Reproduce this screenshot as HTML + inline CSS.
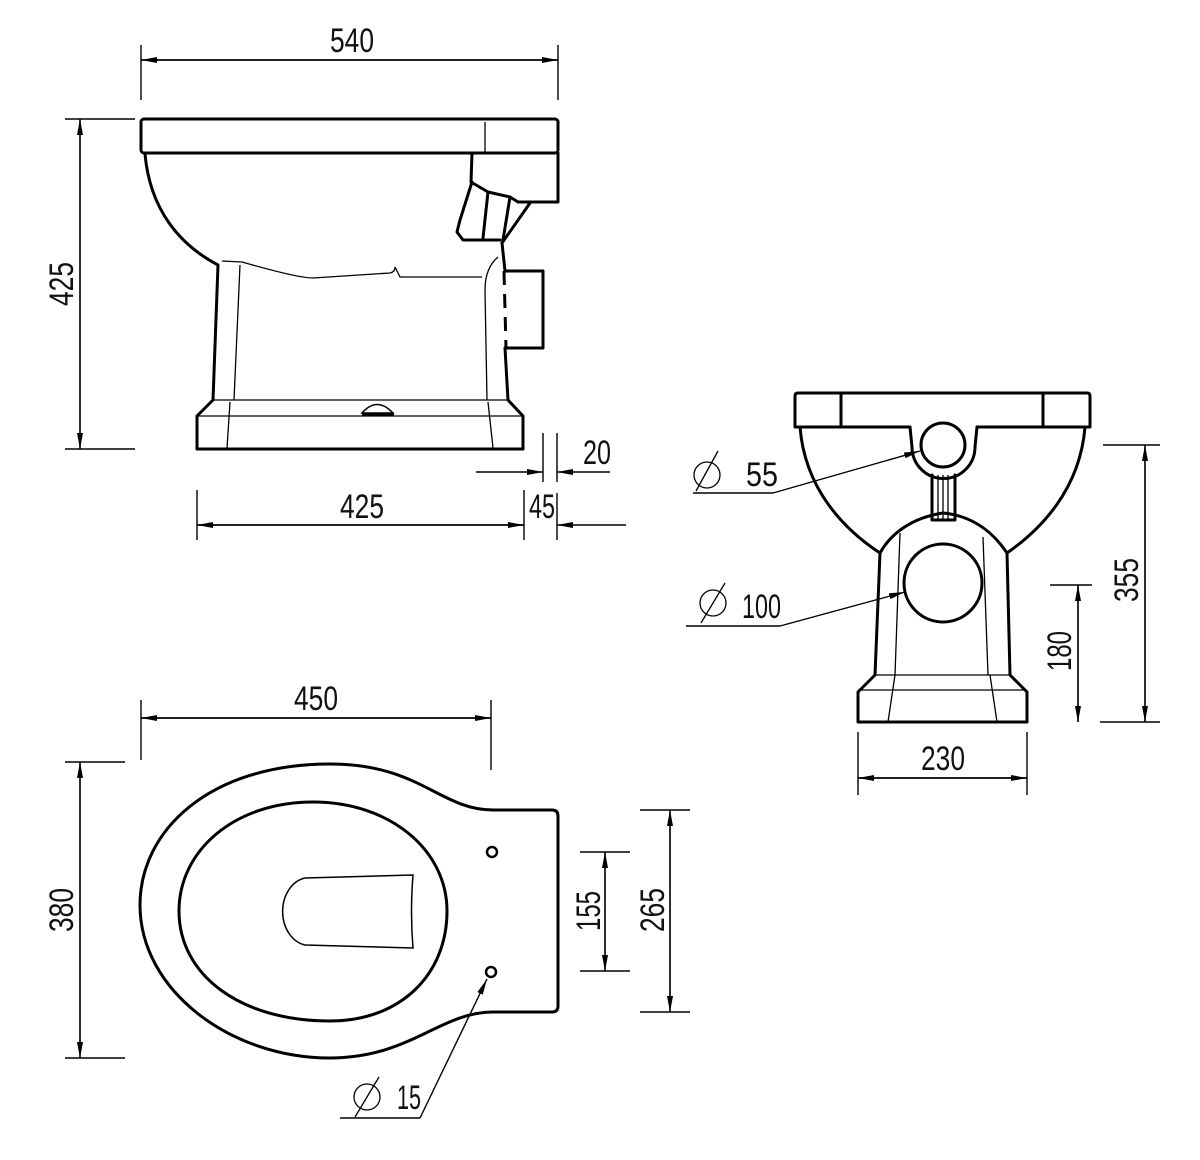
<!DOCTYPE html>
<html><head><meta charset="utf-8"><style>
html,body{margin:0;padding:0;background:#fff}
svg{display:block}
text{font-family:"Liberation Sans Narrow","Liberation Sans",sans-serif;font-size:34px;fill:#111}
.t{fill:none;stroke:#000;stroke-width:3;stroke-linejoin:round;stroke-linecap:round}
.n{fill:none;stroke:#000;stroke-width:1.3}
.d{fill:none;stroke:#000;stroke-width:1.4}
</style></head><body>
<svg width="1200" height="1160" viewBox="0 0 1200 1160" xmlns="http://www.w3.org/2000/svg">
<defs>
<marker id="a" viewBox="0 0 16 6" refX="16" refY="3" markerWidth="16" markerHeight="6" markerUnits="userSpaceOnUse" orient="auto"><path d="M0,0 L16,3 L0,6 Z" fill="#000"/></marker>
</defs>

<!-- SIDE VIEW -->
<rect class="t" x="141" y="119" width="417" height="34" rx="3"/>
<line class="n" x1="485" y1="122" x2="485" y2="153"/>
<path class="t" d="M472,153 L471,182 L488,192 L510,197 L518,202 L558,202 L558,153"/>
<path class="t" d="M472,182 L460,220 L457,232 L463,240 L500,240"/>
<path class="t" d="M530,203 L502,243"/>
<path class="t" d="M488,192 L483,238 M510,197 L503,240"/>
<path class="t" d="M145,154 C150,210 180,245 218,265 L213,400 L197,416 L197,449 L523,449 L523,416 L508,400 L505,348 M505,271 L502,243"/>
<line x1="504" y1="271" x2="506" y2="348" stroke="#000" stroke-width="3" stroke-dasharray="14,9"/>
<path class="t" d="M505,271 L543,271 L543,348 L507,348"/>
<path class="n" d="M213,400 L508,400 M197,416 L523,416 M230,402 L227,448 M488,402 L493,448 M240,265 L234,400 M487,400 L485,290 Q485,268 498,257"/>
<path class="n" d="M222,261 L242,262 C270,270 300,278 313,278 L390,273 Q395,272 395,267 L400,277 L482,277"/>
<path d="M362,413 Q377,396 393,413 Z" fill="none" stroke="#000" stroke-width="1.5"/>
<line x1="362" y1="414" x2="394" y2="414" stroke="#000" stroke-width="3"/>

<!-- 540 -->
<line class="d" x1="141" y1="45" x2="141" y2="100"/><line class="d" x1="558" y1="45" x2="558" y2="100"/>
<line class="d" x1="141" y1="60" x2="558" y2="60" marker-end="url(#a)"/>
<line class="d" x1="558" y1="60" x2="141" y2="60" marker-end="url(#a)"/>
<text x="330" y="52" textLength="44" lengthAdjust="spacingAndGlyphs">540</text>
<!-- 425 vertical -->
<line class="d" x1="65" y1="119" x2="135" y2="119"/><line class="d" x1="65" y1="449" x2="135" y2="449"/>
<line class="d" x1="80" y1="119" x2="80" y2="449" marker-end="url(#a)"/>
<line class="d" x1="80" y1="449" x2="80" y2="119" marker-end="url(#a)"/>
<text transform="translate(73,306) rotate(-90)" textLength="44" lengthAdjust="spacingAndGlyphs">425</text>
<!-- 425 bottom -->
<line class="d" x1="197" y1="490" x2="197" y2="540"/><line class="d" x1="524" y1="490" x2="524" y2="540"/>
<line class="d" x1="197" y1="525" x2="524" y2="525" marker-end="url(#a)"/>
<line class="d" x1="524" y1="525" x2="197" y2="525" marker-end="url(#a)"/>
<text x="340" y="518" textLength="44" lengthAdjust="spacingAndGlyphs">425</text>
<!-- 45 -->
<line class="d" x1="557" y1="493" x2="557" y2="540"/>
<line class="d" x1="626" y1="525" x2="557" y2="525" marker-end="url(#a)"/>
<text x="529" y="518" textLength="26" lengthAdjust="spacingAndGlyphs">45</text>
<!-- 20 -->
<line class="d" x1="543" y1="433" x2="543" y2="482"/><line class="d" x1="557" y1="433" x2="557" y2="482"/>
<line class="d" x1="476" y1="472" x2="543" y2="472" marker-end="url(#a)"/>
<line class="d" x1="610" y1="472" x2="557" y2="472" marker-end="url(#a)"/>
<text x="583" y="464" textLength="28" lengthAdjust="spacingAndGlyphs">20</text>

<!-- FRONT VIEW -->
<path class="t" d="M795,427 L795,396 Q795,393 798,393 L1087,393 Q1090,393 1090,396 L1090,427 L977,427 M910,427 L795,427"/>
<line class="t" x1="841" y1="394" x2="841" y2="427"/><line class="t" x1="1043" y1="394" x2="1043" y2="427"/>
<path class="t" d="M910,427 L912,447 A31,31 0 0 0 975,447 L977,427"/>
<circle class="t" cx="943" cy="445" r="22"/>
<path class="t" d="M932,475 L932,520 M955,475 L955,520 M932,520 L955,520"/>
<path class="n" d="M938,475 L938,520 M943,475 L943,520 M948,475 L948,520"/>
<path class="t" d="M800,427 C805,490 845,530 880,553 M1085,427 C1080,490 1040,530 1007,553"/>
<path class="t" d="M880,553 C890,535 910,518 943,513 C975,516 995,535 1007,553 L1010,675 L1027,692 L1027,722 L858,722 L858,692 L875,675 L880,553"/>
<path class="n" d="M875,675 L1010,675 M858,690 L1027,690 M900,533 L895,675 M983,537 L988,675 M895,675 L888,722 M990,675 L997,722"/>
<circle class="t" cx="943" cy="583" r="39"/>
<!-- O55 -->
<circle class="n" cx="707" cy="475" r="13"/><line class="n" x1="696" y1="491" x2="718" y2="451"/>
<text x="746" y="486" textLength="32" lengthAdjust="spacingAndGlyphs">55</text>
<line class="d" x1="693" y1="493" x2="773" y2="493"/>
<line class="d" x1="773" y1="493" x2="920" y2="451" marker-end="url(#a)"/>
<!-- O100 -->
<circle class="n" cx="713" cy="603" r="13"/><line class="n" x1="701" y1="623" x2="725" y2="583"/>
<text x="742" y="618" textLength="39" lengthAdjust="spacingAndGlyphs">100</text>
<line class="d" x1="686" y1="626" x2="780" y2="626"/>
<line class="d" x1="780" y1="626" x2="905" y2="592" marker-end="url(#a)"/>
<!-- 355 -->
<line class="d" x1="1103" y1="445" x2="1160" y2="445"/><line class="d" x1="1100" y1="722" x2="1160" y2="722"/>
<line class="d" x1="1145" y1="445" x2="1145" y2="722" marker-end="url(#a)"/>
<line class="d" x1="1145" y1="722" x2="1145" y2="445" marker-end="url(#a)"/>
<text transform="translate(1138,602) rotate(-90)" textLength="44" lengthAdjust="spacingAndGlyphs">355</text>
<!-- 180 -->
<line class="d" x1="1050" y1="585" x2="1092" y2="585"/>
<line class="d" x1="1078" y1="585" x2="1078" y2="722" marker-end="url(#a)"/>
<line class="d" x1="1078" y1="722" x2="1078" y2="585" marker-end="url(#a)"/>
<text transform="translate(1071,671) rotate(-90)" textLength="40" lengthAdjust="spacingAndGlyphs">180</text>
<!-- 230 -->
<line class="d" x1="858" y1="732" x2="858" y2="795"/><line class="d" x1="1027" y1="732" x2="1027" y2="795"/>
<line class="d" x1="858" y1="778" x2="1027" y2="778" marker-end="url(#a)"/>
<line class="d" x1="1027" y1="778" x2="858" y2="778" marker-end="url(#a)"/>
<text x="921" y="770" textLength="44" lengthAdjust="spacingAndGlyphs">230</text>

<!-- TOP VIEW -->
<path class="t" d="M493,810 C440,810 420,764 330,764 C210,764 140,830 140,905 C140,990 230,1058 330,1058 C410,1058 440,1012 493,1012 L552,1012 Q558,1012 558,1006 L558,816 Q558,810 552,810 Z"/>
<path class="t" d="M313,802 C390,802 447,850 447,911 C447,975 400,1021 330,1021 C240,1021 179,975 179,911 C179,850 235,802 313,802 Z"/>
<path d="M413,875 L305,878 A27,34 0 0 0 305,945 L413,948 Q410,912 413,875 Z" fill="none" stroke="#000" stroke-width="1.5"/>
<circle cx="492" cy="852" r="5" fill="none" stroke="#000" stroke-width="2.5"/>
<circle cx="491" cy="972" r="5" fill="none" stroke="#000" stroke-width="2.5"/>
<!-- O15 -->
<circle class="n" cx="367" cy="1097" r="13"/><line class="n" x1="355" y1="1117" x2="379" y2="1077"/>
<text x="397" y="1109" textLength="24" lengthAdjust="spacingAndGlyphs">15</text>
<line class="d" x1="340" y1="1118" x2="420" y2="1118"/>
<line class="d" x1="420" y1="1118" x2="487" y2="979" marker-end="url(#a)"/>
<!-- 450 -->
<line class="d" x1="141" y1="700" x2="141" y2="760"/><line class="d" x1="491" y1="700" x2="491" y2="770"/>
<line class="d" x1="141" y1="718" x2="491" y2="718" marker-end="url(#a)"/>
<line class="d" x1="491" y1="718" x2="141" y2="718" marker-end="url(#a)"/>
<text x="294" y="710" textLength="44" lengthAdjust="spacingAndGlyphs">450</text>
<!-- 380 -->
<line class="d" x1="65" y1="762" x2="125" y2="762"/><line class="d" x1="65" y1="1058" x2="125" y2="1058"/>
<line class="d" x1="80" y1="762" x2="80" y2="1058" marker-end="url(#a)"/>
<line class="d" x1="80" y1="1058" x2="80" y2="762" marker-end="url(#a)"/>
<text transform="translate(73,932) rotate(-90)" textLength="44" lengthAdjust="spacingAndGlyphs">380</text>
<!-- 155 -->
<line class="d" x1="580" y1="852" x2="630" y2="852"/><line class="d" x1="580" y1="971" x2="630" y2="971"/>
<line class="d" x1="605" y1="852" x2="605" y2="971" marker-end="url(#a)"/>
<line class="d" x1="605" y1="971" x2="605" y2="852" marker-end="url(#a)"/>
<text transform="translate(600,931) rotate(-90)" textLength="40" lengthAdjust="spacingAndGlyphs">155</text>
<!-- 265 -->
<line class="d" x1="640" y1="810" x2="690" y2="810"/><line class="d" x1="640" y1="1012" x2="690" y2="1012"/>
<line class="d" x1="670" y1="810" x2="670" y2="1012" marker-end="url(#a)"/>
<line class="d" x1="670" y1="1012" x2="670" y2="810" marker-end="url(#a)"/>
<text transform="translate(664,932) rotate(-90)" textLength="44" lengthAdjust="spacingAndGlyphs">265</text>
</svg>
</body></html>
